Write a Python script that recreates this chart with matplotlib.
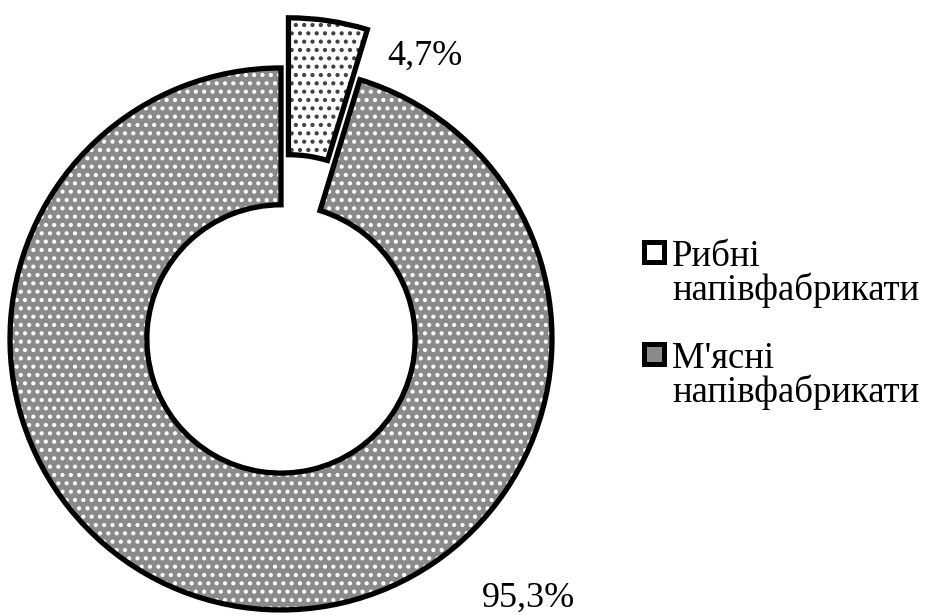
import matplotlib
matplotlib.use('Agg')
import matplotlib.pyplot as plt
from matplotlib.patches import Rectangle

# data
categories = ["Рибні напівфабрикати", "М'ясні напівфабрикати"]
shares = [4.7, 95.3]

# styles
face_colors = ['#ffffff', '#8a8a8a']
hatch_colors = ['#404040', '#ffffff']
hatches = ['..', '..']
explode = [0.167, 0.02]

W, H = 929, 615
R = 271.0            # outer radius, px
ring = 0.505         # ring width as fraction of R
cx, cy = 281.8, 333.6  # pie centre, px from top-left

plt.rcParams['font.family'] = ['Liberation Serif', 'DejaVu Serif']
plt.rcParams['hatch.linewidth'] = 1.8

fig = plt.figure(figsize=(W / 100, H / 100), dpi=100)
ax = fig.add_axes([0, 0, 1, 1])

common = dict(startangle=90, counterclock=False, explode=explode, radius=1)

# 1) fills
ax.pie(shares, colors=face_colors,
       wedgeprops=dict(width=ring, linewidth=0, edgecolor='none'), **common)
# 2) patterns
pat, _ = ax.pie(shares, colors=['none', 'none'],
                wedgeprops=dict(width=ring, linewidth=0), **common)
for w, h, c in zip(pat, hatches, hatch_colors):
    w.set_facecolor('none')
    w.set_edgecolor(c)
    w.set_hatch(h)
    w.set_linewidth(0)
# 3) outlines
ax.pie(shares, colors=['none', 'none'],
       wedgeprops=dict(width=ring, linewidth=3.8, edgecolor='black',
                       facecolor='none', joinstyle='miter'), **common)

ax.set_aspect('auto')
ax.set_xlim(-cx / R, (W - cx) / R)
ax.set_ylim((cy - H) / R, cy / R)
ax.axis('off')


def px(x, y):
    return x / W, 1 - y / H


# value labels
label_pos = [(387, 65), (482, 607)]
for v, (x, y) in zip(shares, label_pos):
    fig.text(*px(x, y), f'{v:.1f}'.replace('.', ',') + '%',
             fontsize=26, ha='left', va='baseline')

# legend
entry_top = [240, 342]
for name, fc, top in zip(categories, face_colors, entry_top):
    x0, y0 = 644, top + 2
    sq = Rectangle(px(x0, y0 + 20), 20 / W, 20 / H, transform=fig.transFigure,
                   facecolor=fc, edgecolor='black', linewidth=3.6)
    fig.add_artist(sq)
    fig.text(*px(672, top - 1), '\n'.join(name.split(' ')), fontsize=26.5,
             ha='left', va='top', linespacing=0.98)

fig.savefig('out.png', dpi=100)
